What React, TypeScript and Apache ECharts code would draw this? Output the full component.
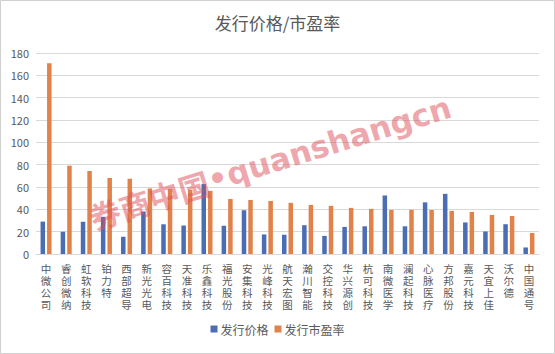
import React, { useEffect, useRef } from "react";
import * as echarts from "echarts";

const categories = [
  "中微公司", "睿创微纳", "虹软科技", "铂力特", "西部超导", "新光光电", "容百科技", "天准科技",
  "乐鑫科技", "福光股份", "安集科技", "光峰科技", "航天宏图", "瀚川智能", "交控科技", "华兴源创",
  "杭可科技", "南微医学", "澜起科技", "心脉医疗", "方邦股份", "嘉元科技", "天宜上佳", "沃尔德", "中国通号",
];
const issuePrice = [
  29.01, 20.0, 28.88, 33.28, 15.43, 38.09, 26.62, 25.5, 62.6, 25.29, 39.19, 17.5, 17.25,
  25.79, 16.2, 24.26, 24.8, 52.4, 24.8, 46.23, 53.88, 28.26, 20.2, 26.68, 5.85,
];
const issuePE = [
  170.75, 79.09, 74.33, 68.1, 67.4, 58.7, 58.3, 57.4, 56.5, 49.3, 48.4, 47.5, 45.8,
  44.0, 43.1, 41.3, 40.4, 39.5, 39.6, 39.4, 38.6, 37.7, 35.0, 34.1, 18.8,
];
const seriesNames = ["发行价格", "发行市盈率"];
const yTicks = { min: 0, max: 180, interval: 20 };

export default function App() {
  const ref = useRef<HTMLDivElement>(null);
  useEffect(() => {
    if (!ref.current) return;
    const chart = echarts.init(ref.current, null, { renderer: "svg" });
    const font = "'Noto Sans CJK SC', 'Noto Sans', sans-serif";
    chart.setOption({
      animation: false,
      backgroundColor: "#ffffff",
      textStyle: { fontFamily: font },
      title: {
        text: "发行价格/市盈率",
        left: "center",
        top: 9,
        textStyle: { fontSize: 17, fontWeight: "normal", color: "#595959", fontFamily: font },
      },
      legend: {
        data: seriesNames,
        bottom: 14,
        left: "center",
        itemWidth: 7,
        itemHeight: 7,
        itemGap: 6,
        icon: "rect",
        textStyle: { fontSize: 12, color: "#595959", fontFamily: font, padding: [0, 0, 0, -2] },
      },
      grid: { left: 36, right: 16, top: 53, bottom: 100 },
      xAxis: {
        type: "category",
        data: categories,
        axisLine: { lineStyle: { color: "#d9d9d9" } },
        axisTick: { show: false },
        axisLabel: {
          interval: 0,
          color: "#595959",
          fontSize: 10.5,
          lineHeight: 12,
          margin: 8,
          fontFamily: font,
          formatter: (v: string) => v.split("").join("\n"),
        },
      },
      yAxis: {
        type: "value",
        min: yTicks.min,
        max: yTicks.max,
        interval: yTicks.interval,
        axisLine: { show: false },
        axisTick: { show: false },
        splitLine: { lineStyle: { color: "#d9d9d9" } },
        axisLabel: { color: "#595959", fontSize: 11, margin: 7, fontFamily: font },
      },
      series: [
        {
          name: seriesNames[0],
          type: "bar",
          data: issuePrice,
          barWidth: 4.5,
          barGap: "45%",
          itemStyle: { color: "#4A6DB3" },
        },
        {
          name: seriesNames[1],
          type: "bar",
          data: issuePE,
          barWidth: 4.5,
          itemStyle: { color: "#E0824A" },
        },
      ],
      graphic: [
        {
          type: "rect",
          shape: { x: 0.5, y: 0.5, width: 554, height: 353 },
          style: { fill: "none", stroke: "#d0d0d0", lineWidth: 1 },
          silent: true,
        },
        {
          type: "text",
          x: 270,
          y: 162,
          rotation: 0.3,
          silent: true,
          z: 100,
          style: {
            text: "{a|券商中国}{b|•quanshangcn}",
            align: "center",
            verticalAlign: "middle",
            rich: {
              a: {
                fontSize: 31,
                fontWeight: "bold",
                fontFamily: font,
                fill: "rgba(222, 80, 90, 0.5)",
              },
              b: {
                fontSize: 31,
                fontWeight: "bold",
                fontFamily: "'DejaVu Sans', sans-serif",
                fill: "rgba(222, 80, 90, 0.5)",
              },
            },
          },
        },
      ],
    });
    return () => chart.dispose();
  }, []);
  return (
    <div
      ref={ref}
      style={{ position: "fixed", left: 0, top: 0, width: 555, height: 354 }}
    />
  );
}
